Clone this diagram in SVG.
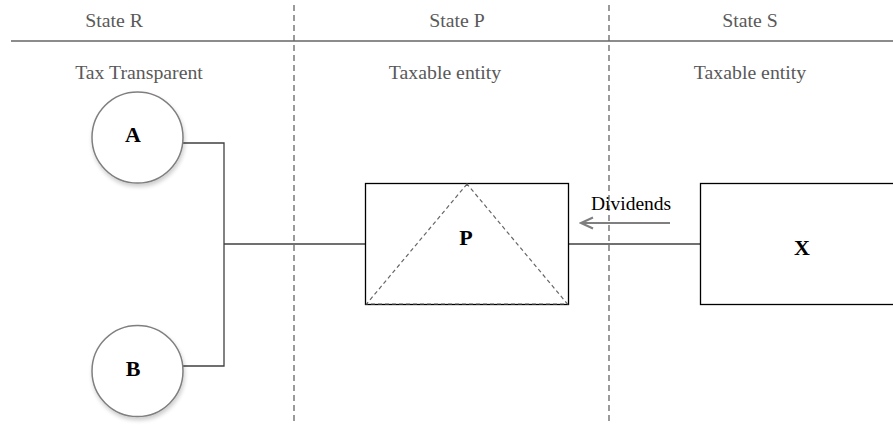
<svg xmlns="http://www.w3.org/2000/svg" width="893" height="425" viewBox="0 0 893 425">
<style>
.hdr{font-family:"Liberation Serif",serif;font-size:19.8px;fill:#595959;text-anchor:middle}
.lbl{font-family:"Liberation Serif",serif;font-size:22px;font-weight:bold;fill:#000;text-anchor:middle}
.div{stroke:#666;stroke-width:1.3;stroke-dasharray:6,4;fill:none}
.con{stroke:#404040;stroke-width:1.3;fill:none}
.circ{fill:#fff;stroke:#7f7f7f;stroke-width:1.5}
.box{fill:#fff;stroke:#000;stroke-width:1.3}
</style>
<defs>
<filter id="sh" x="-20%" y="-20%" width="150%" height="150%">
<feGaussianBlur in="SourceAlpha" stdDeviation="2"/>
<feOffset dx="1" dy="3"/>
<feComponentTransfer><feFuncA type="linear" slope="0.2"/></feComponentTransfer>
<feMerge><feMergeNode/><feMergeNode in="SourceGraphic"/></feMerge>
</filter>
<marker id="ah" markerWidth="16" markerHeight="14" refX="14" refY="7" orient="auto" markerUnits="userSpaceOnUse">
<path d="M2,1.5 L14,7 L2,12.5" fill="none" stroke="#7f7f7f" stroke-width="2.2"/>
</marker>
</defs>
<rect width="893" height="425" fill="#fff"/>
<g id="frame">
<line x1="11" y1="41" x2="893" y2="41" stroke="#666" stroke-width="1.5"/>
<line class="div" x1="294" y1="5" x2="294" y2="425"/>
<line class="div" x1="609" y1="5" x2="609" y2="425"/>
<text class="hdr" x="114" y="27">State R</text>
<text class="hdr" x="457" y="27">State P</text>
<text class="hdr" x="750" y="27">State S</text>
<text class="hdr" x="139" y="79">Tax Transparent</text>
<text class="hdr" x="445" y="78.5">Taxable entity</text>
<text class="hdr" x="750" y="78.5">Taxable entity</text>
</g>
<g id="connectors">
<polyline class="con" points="183,143 224,143 224,366 183,366"/>
<line class="con" x1="224" y1="244" x2="365" y2="244"/>
<line class="con" x1="568" y1="244" x2="700" y2="244"/>
<line x1="670" y1="223" x2="581" y2="223" stroke="#7f7f7f" stroke-width="2" marker-end="url(#ah)"/>
<text x="591" y="210" font-family="Liberation Serif, serif" font-size="19.5" fill="#000">Dividends</text>
</g>
<g id="A">
<circle class="circ" cx="137.5" cy="137.5" r="45.5" filter="url(#sh)"/>
<text class="lbl" x="133" y="142">A</text>
</g>
<g id="B">
<circle class="circ" cx="137.5" cy="371" r="45.5" filter="url(#sh)"/>
<text class="lbl" x="133" y="376">B</text>
</g>
<g id="P">
<rect class="box" x="365.5" y="183.5" width="203" height="121"/>
<polygon points="467,184 366.5,304 567.5,304" fill="none" stroke="#666" stroke-width="1.2" stroke-dasharray="4,3"/>
<text class="lbl" x="466" y="245">P</text>
</g>
<g id="X">
<rect class="box" x="700.5" y="183.5" width="200" height="121"/>
<text class="lbl" x="802" y="255">X</text>
</g>
</svg>
